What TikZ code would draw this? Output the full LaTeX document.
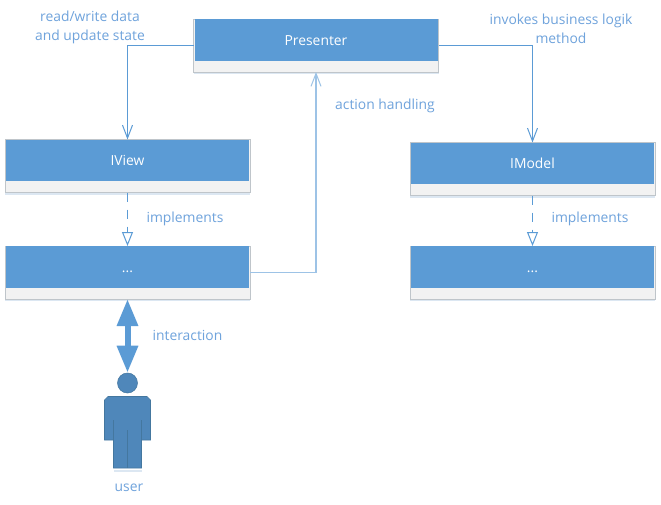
\documentclass[tikz,border=0pt]{standalone}
\usepackage{fontspec}
\setmainfont{Open Sans}
\usetikzlibrary{arrows.meta,calc}
\definecolor{hdr}{HTML}{5B9BD5}
\definecolor{foot}{HTML}{F2F2F2}
\definecolor{edge}{HTML}{BFC5CA}
\definecolor{lbl}{HTML}{6FA3DC}
\definecolor{lnk}{HTML}{5B9BD5}
\definecolor{lnkl}{HTML}{9DC3E6}
\definecolor{usr}{HTML}{4F87BA}
\definecolor{usrd}{HTML}{44779F}
\definecolor{shad}{HTML}{DCE7F2}
\tikzset{
  x=0.75pt,y=-0.75pt,
  classbox/.style={draw=edge,fill=foot,line width=0.75pt,minimum width=183.75pt,minimum height=39.75pt,inner sep=0pt,outer sep=0pt,
    preaction={draw=none,fill=shad,transform canvas={yshift=-1.5pt}}},
  classhead/.style={fill=hdr,minimum width=182.25pt,minimum height=31pt,inner sep=0pt,outer sep=0pt,text=white,text height=8pt,text depth=0pt,font=\fontsize{10.4pt}{12pt}\selectfont},
  txt/.style={text=lbl,font=\fontsize{10.4pt}{12pt}\selectfont,inner sep=0pt,text height=8pt,text depth=0pt},
  assoc/.style={draw=lnk,line width=0.75pt,-{Straight Barb[length=9.75pt,width=7.5pt,line width=0.75pt]}},
  assocl/.style={draw=lnkl,line width=1pt,-{Straight Barb[length=9.75pt,width=7.5pt,line width=0.75pt]}},
  impl/.style={draw=lnk,line width=0.9pt,dash pattern=on 6.75pt off 6pt,-{Triangle[open,fill=white,length=10.5pt,width=8.25pt,line width=0.75pt]}},
  interact/.style={draw=hdr,fill=hdr,line width=4.5pt,{Triangle[length=20.25pt,width=15pt]}-{Triangle[length=20.25pt,width=15pt]}},
  usershape/.style={fill=usr,draw=usrd,line width=0.4pt},
  userline/.style={draw=usrd,line width=0.5pt},
}
\begin{document}
\begin{tikzpicture}
\useasboundingbox[fill=white] (0,0) rectangle (661,504);
% class boxes
\node[classbox] (p) at (316,45.5) {};
\node[classhead] (ph) at (316,40) {Presenter};
\node[classbox] (v) at (127.5,166) {};
\node[classhead] (vh) at (127.5,160.5) {IView};
\node[classbox] (vi) at (127.5,272.5) {};
\node[classhead] (vih) at (127.5,267) {...};
\node[classbox] (m) at (532.5,169) {};
\node[classhead] (mh) at (532.5,163.5) {IModel};
\node[classbox] (mi) at (532.5,272.5) {};
\node[classhead] (mih) at (532.5,267) {...};
% user
\node[usershape,circle,minimum size=15pt,inner sep=0pt] (head) at (127.5,383) {};
\fill[shad] (113.5,470) rectangle (141.5,471.5);
\path[usershape] (108,396.5) -- (147,396.5) -- (150.5,400) -- (150.5,440) -- (141.5,440) -- (141.5,468) -- (113.5,468) -- (113.5,440) -- (104.5,440) -- (104.5,400) -- cycle;
\draw[userline] (113.5,420) -- (113.5,440) (141.5,420) -- (141.5,440) (127.5,430) -- (127.5,468);
% labels
\node[txt] (t1) at (90,16) {read/write data};
\node[txt] (t2) at (90,35) {and update state};
\node[txt] (t3) at (561,19.5) {invokes business logik};
\node[txt] (t4) at (561,38.5) {method};
\node[txt] (t5) at (385,104.5) {action handling};
\node[txt] (t6) at (185,217.5) {implements};
\node[txt] (t7) at (590,217.5) {implements};
\node[txt] (t8) at (187.5,335.5) {interaction};
\node[txt] (t9) at (129,486.5) {user};
% connectors
\draw[assoc] (p.west) -| (v.north);
\draw[assoc] (p.east) -| (m.north);
\draw[assocl] (vi.east) -| (p.south);
\draw[impl] (v.south) -- (vi.north);
\draw[impl] (m.south) -- (mi.north);
\draw[interact] (vi.south) -- (head.north);
\end{tikzpicture}
\end{document}
